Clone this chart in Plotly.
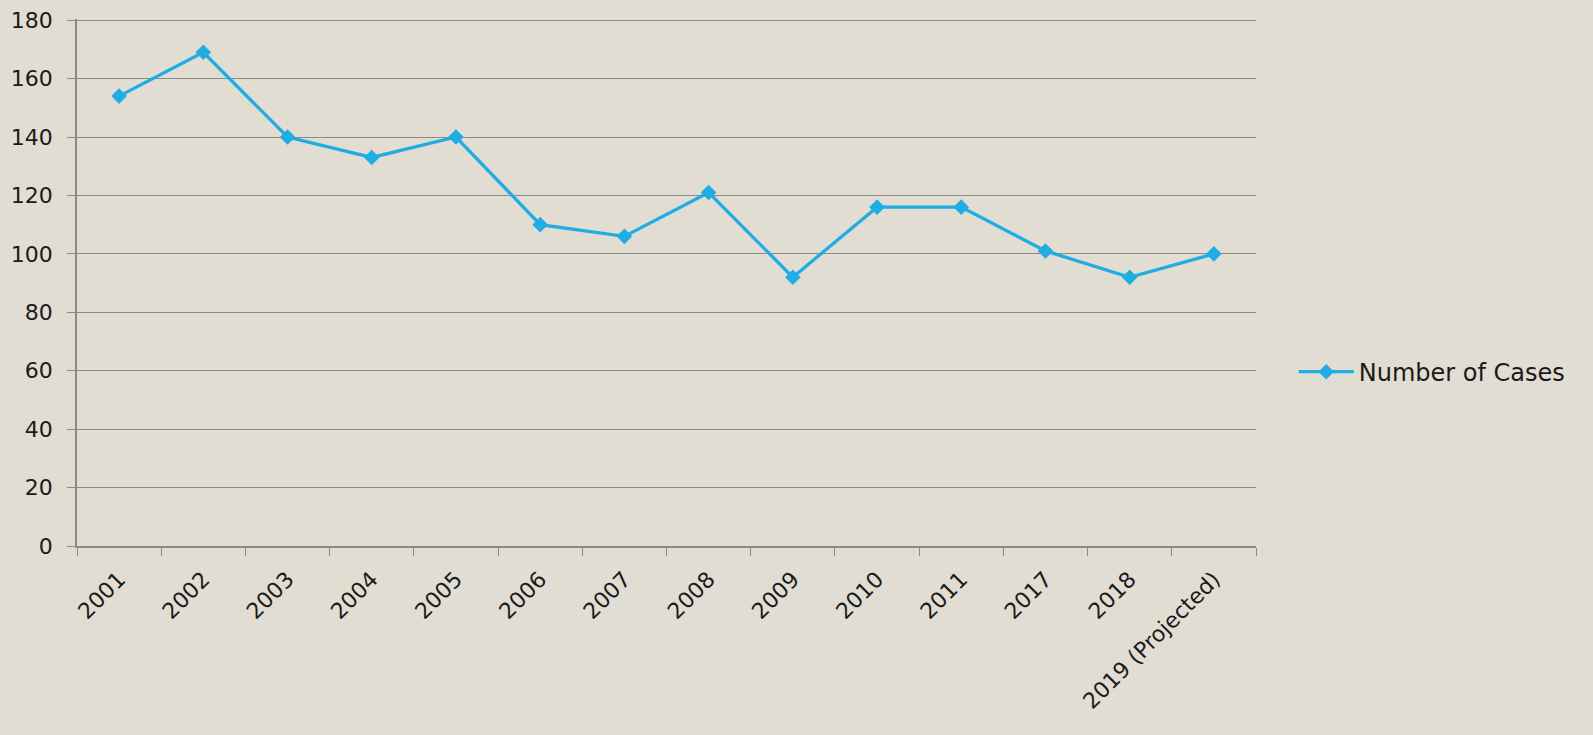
import plotly.graph_objects as go

categories = ["2001", "2002", "2003", "2004", "2005", "2006", "2007", "2008",
              "2009", "2010", "2011", "2017", "2018", "2019 (Projected)"]
cases = [154, 169, 140, 133, 140, 110, 106, 121, 92, 116, 116, 101, 92, 100]
y_ticks = [0, 20, 40, 60, 80, 100, 120, 140, 160, 180]

bg = "#E2DDD2"
line_color = "#1FADE4"
grid_color = "#8C8A86"
font_family = "'DejaVu Sans', sans-serif"

fig = go.Figure()
fig.add_trace(go.Scatter(
    x=categories, y=cases, mode="lines+markers", name="Number of Cases",
    line=dict(color=line_color, width=3.3),
    marker=dict(symbol="diamond", size=12, color=line_color),
))

fig.update_layout(
    width=1593, height=735,
    paper_bgcolor=bg, plot_bgcolor=bg,
    margin=dict(l=77, r=337, t=19, b=189),
    font=dict(family=font_family, size=22, color="#1a1a1a"),
    showlegend=True,
    legend=dict(x=1.032, y=0.33, xanchor="left", yanchor="middle",
                bgcolor="rgba(0,0,0,0)", font=dict(size=24),
                itemwidth=55),
    xaxis=dict(
        type="category", tickangle=-45, showgrid=False, automargin=False,
        showline=True, linecolor=grid_color, linewidth=1.5,
        ticks="outside", ticklen=8, tickcolor=grid_color, tickson="boundaries",
        range=[-0.5, len(categories) - 0.5], tickfont=dict(size=22),
        ticklabelstandoff=10,
    ),
    yaxis=dict(
        range=[0, 180.4], tickvals=y_ticks, showgrid=True, gridcolor=grid_color,
        gridwidth=1.2, zeroline=False, automargin=False,
        showline=True, linecolor=grid_color, linewidth=1.5,
        ticks="outside", ticklen=8, tickcolor=grid_color, tickfont=dict(size=22),
        ticklabelstandoff=10,
    ),
)

fig.write_html("out.html", config={"displayModeBar": False},
               post_script="document.body.style.margin='0';document.body.style.overflow='hidden';")
